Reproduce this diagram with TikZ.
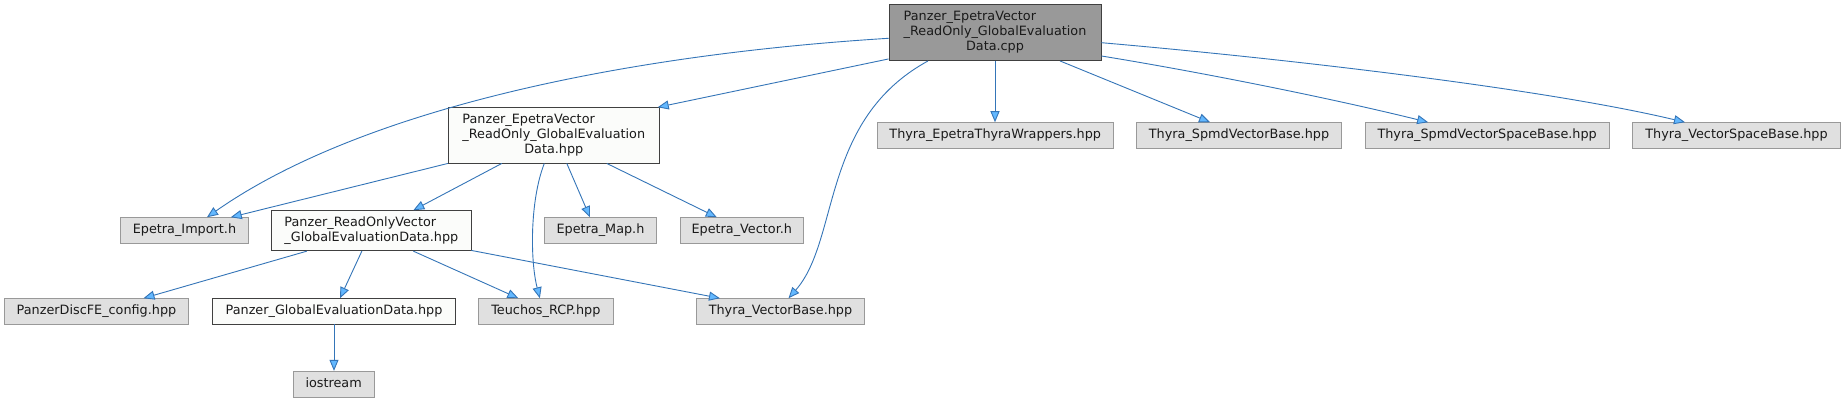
\documentclass[tikz,border=0pt]{standalone}
\usepackage{fontspec}
\setmainfont{DejaVu Sans}
\usetikzlibrary{arrows.meta}
\definecolor{rootfill}{HTML}{999999}
\definecolor{rootdraw}{HTML}{404040}
\definecolor{docfill}{HTML}{FBFCFA}
\definecolor{docdraw}{HTML}{404040}
\definecolor{extfill}{HTML}{E0E0E0}
\definecolor{extdraw}{HTML}{999999}
\definecolor{edgecol}{HTML}{3475B8}
\definecolor{tipfill}{HTML}{63B8FF}
\definecolor{txt}{HTML}{1A1A1A}
\tikzset{
  box/.style={rectangle, inner sep=0pt, line width=0.9pt, text=txt,
    font=\fontsize{12.8}{14.8}\selectfont},
  oneline/.style={text height=9.5pt, text depth=3pt},
  rootbox/.style={box, fill=rootfill, draw=rootdraw},
  docbox/.style={box, fill=docfill, draw=docdraw},
  extbox/.style={box, fill=extfill, draw=extdraw, oneline},
  dep/.style={draw=edgecol, line width=0.9pt,
    -{Triangle[length=11pt,width=9pt,fill=tipfill]}}
}
\begin{document}
\begin{tikzpicture}[x=1pt,y=-1pt]
\useasboundingbox[fill=white] (0,0) rectangle (1845,403);
% row 0
\node[rootbox, minimum width=212pt, minimum height=56pt] (cpp) at (995,32.5)
  {\begin{tabular}{@{}l@{}}Panzer\_EpetraVector\\\_ReadOnly\_GlobalEvaluation\\\multicolumn{1}{@{}c@{}}{Data.cpp}\end{tabular}};
% row 1
\node[docbox, minimum width=211pt, minimum height=55.3pt] (hpp) at (553.8,135.35)
  {\begin{tabular}{@{}l@{}}Panzer\_EpetraVector\\\_ReadOnly\_GlobalEvaluation\\\multicolumn{1}{@{}c@{}}{Data.hpp}\end{tabular}};
\node[extbox, minimum width=235.7pt, minimum height=25.3pt] (etw) at (995.2,135.35) {Thyra\_EpetraThyraWrappers.hpp};
\node[extbox, minimum width=204.6pt, minimum height=25.3pt] (svb) at (1239,135.35) {Thyra\_SpmdVectorBase.hpp};
\node[extbox, minimum width=243.7pt, minimum height=25.3pt] (svsb) at (1487.15,135.35) {Thyra\_SpmdVectorSpaceBase.hpp};
\node[extbox, minimum width=207.6pt, minimum height=25.3pt] (vsb) at (1736.5,135.35) {Thyra\_VectorSpaceBase.hpp};
% row 2
\node[extbox, minimum width=127.6pt, minimum height=25.6pt] (imp) at (184.5,230.5) {Epetra\_Import.h};
\node[docbox, minimum width=199.3pt, minimum height=40pt] (rov) at (371.35,230.7)
  {\begin{tabular}{@{}l@{}}Panzer\_ReadOnlyVector\\\multicolumn{1}{@{}c@{}}{\_GlobalEvaluationData.hpp}\end{tabular}};
\node[extbox, minimum width=111.6pt, minimum height=25.6pt] (map) at (600.5,230.5) {Epetra\_Map.h};
\node[extbox, minimum width=123pt, minimum height=25.6pt] (vec) at (741.8,230.5) {Epetra\_Vector.h};
% row 3
\node[extbox, minimum width=183.6pt, minimum height=25.3pt] (cfg) at (96.5,311.35) {PanzerDiscFE\_config.hpp};
\node[docbox, oneline, minimum width=242.6pt, minimum height=25.3pt] (ged) at (334,311.35) {Panzer\_GlobalEvaluationData.hpp};
\node[extbox, minimum width=134.3pt, minimum height=25.3pt] (rcp) at (545.85,311.35) {Teuchos\_RCP.hpp};
\node[extbox, minimum width=167.6pt, minimum height=25.3pt] (tvb) at (780.5,311.35) {Thyra\_VectorBase.hpp};
% row 4
\node[extbox, minimum width=80.7pt, minimum height=26pt] (ios) at (333.65,384.3) {iostream};
% edges from cpp
\draw[dep] ([yshift=-5.8pt]cpp.west) .. controls (620,55) and (360,110) .. ([xshift=22.5pt]imp.north);
\draw[dep] ([yshift=2pt]cpp.south west) -- ([xshift=-2pt]hpp.north east);
\draw[dep] ([xshift=-67pt]cpp.south) .. controls (820,120) and (840,240) .. ([xshift=8pt]tvb.north);
\draw[dep] (cpp.south) -- (cpp.south |- etw.north);
\draw[dep] ([xshift=65pt]cpp.south) -- ([xshift=-29pt]svb.north);
\draw[dep] ([yshift=-23.5pt]cpp.east) .. controls (1200,72) and (1330,98) .. ([xshift=-59pt]svsb.north);
\draw[dep] ([yshift=-10.2pt]cpp.east) .. controls (1300,60) and (1550,90) .. ([xshift=-51.5pt]vsb.north);
% edges from hpp
\draw[dep] (hpp.south west) -- ([xshift=-18pt]imp.north east);
\draw[dep] ([xshift=-52pt]hpp.south) -- ([xshift=42pt]rov.north);
\draw[dep] ([xshift=-9.5pt]hpp.south) .. controls (530,200) and (530,260) .. ([xshift=-6pt]rcp.north);
\draw[dep] ([xshift=13pt]hpp.south) -- ([xshift=-10.5pt]map.north);
\draw[dep] ([xshift=53pt]hpp.south) -- ([xshift=-25pt]vec.north);
% edges from rov
\draw[dep] ([xshift=-64.5pt]rov.south) -- ([xshift=47pt]cfg.north);
\draw[dep] ([xshift=-9.5pt]rov.south) -- ([xshift=6pt]ged.north);
\draw[dep] ([xshift=42pt]rov.south) -- ([xshift=-27.5pt]rcp.north);
\draw[dep] ([yshift=0.7pt]rov.south east) -- ([xshift=-60.5pt]tvb.north);
% edge from ged
\draw[dep] (ged.south) -- (ged.south |- ios.north);
\end{tikzpicture}
\end{document}
